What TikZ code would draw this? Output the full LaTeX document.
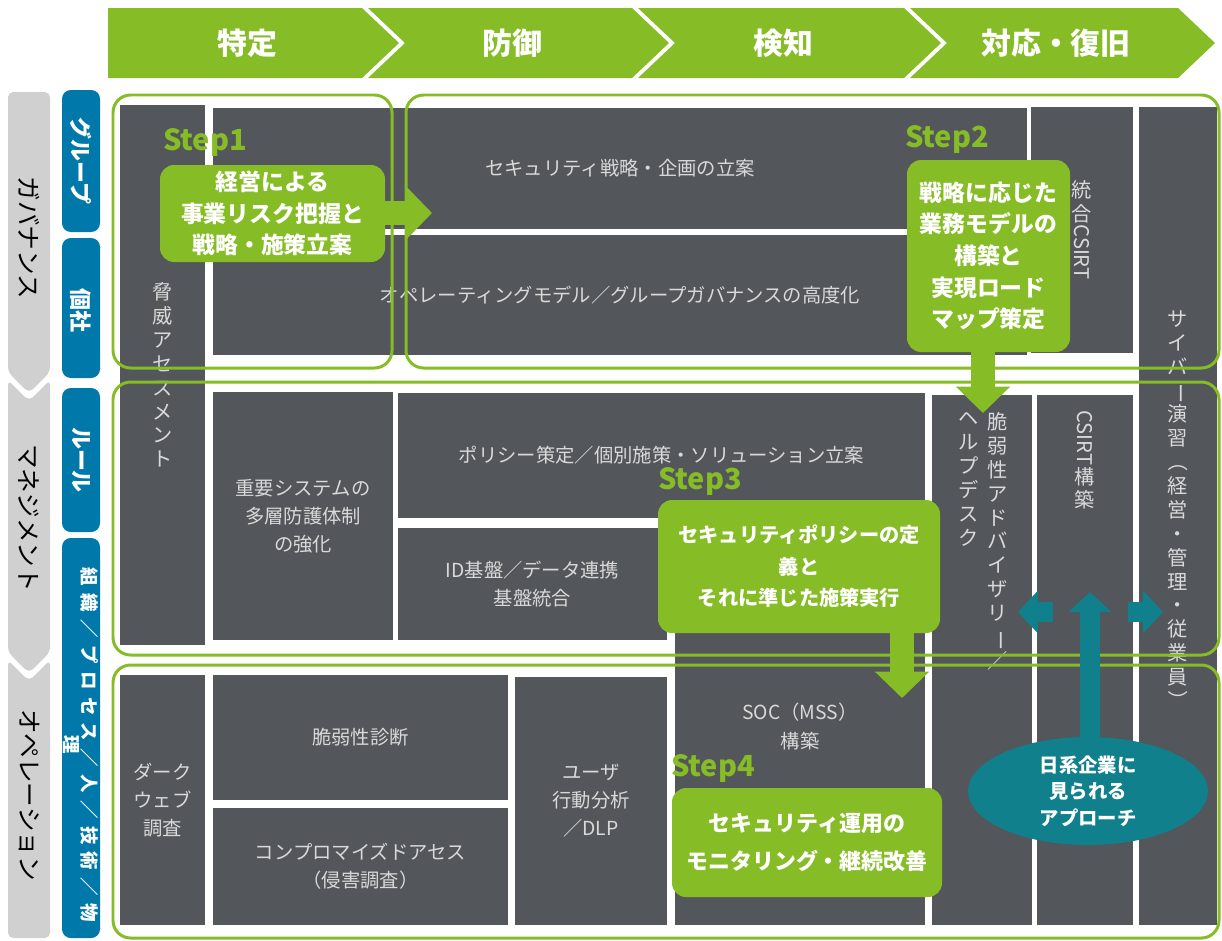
\documentclass[tikz,border=0pt]{standalone}
\usepackage{fontspec}
\setmainfont{Noto Sans CJK JP}
\newfontfamily\widefont[LetterSpace=40]{Noto Sans CJK JP}
\usetikzlibrary{positioning,fit,calc,shapes.geometric,arrows.meta}

\definecolor{leaf}{RGB}{134,188,37}
\definecolor{slate}{RGB}{83,86,90}
\definecolor{tabblue}{RGB}{0,121,170}
\definecolor{petrol}{RGB}{16,128,140}
\definecolor{mist}{RGB}{208,208,208}
\definecolor{boxtxt}{RGB}{217,217,217}

% vertical writing: turn one glyph or word
\newcommand{\tateturn}[1]{\rotatebox[origin=c]{-90}{#1}}

\tikzset{
  phase/.style={text=white,font=\bfseries\fontsize{17}{17}\selectfont},
  side/.style={rotate=-90,text=black,font=\fontsize{14}{14}\selectfont},
  tab/.style={rotate=-90,text=white,align=center,font=\bfseries\fontsize{12.5}{14}\selectfont},
  gbox/.style={fill=slate,inner sep=0pt},
  gtxt/.style={text=boxtxt,align=center,inner sep=0pt,font=\fontsize{11}{16}\selectfont},
  tate/.style={text=boxtxt,align=center,inner sep=0pt,font=\fontsize{11.5}{13.6}\selectfont},
  ring/.style={draw=leaf,line width=1.7pt,rounded corners=10pt},
  stepbox/.style={fill=leaf,rounded corners=8pt,inner sep=0pt},
  steptxt/.style={text=white,align=center,inner sep=0pt,font=\bfseries\fontsize{13}{18}\selectfont},
  steplbl/.style={text=leaf,font=\bfseries\fontsize{16.5}{17}\selectfont},
  flow/.style={draw=leaf,line width=14pt,-{Triangle[width=30pt,length=15pt]}},
  pflow/.style={draw=petrol,line width=11.5pt,-{Triangle[width=24pt,length=11.5pt]}},
}

\begin{document}
\begin{tikzpicture}[x=0.02cm,y=-0.02cm]
\useasboundingbox (0,0) rectangle (1222,940);

% phases on top
\foreach \L/\R/\d/\lbl [count=\i] in {108/362/0/特定, 368/632/37/防御, 638/904/37/検知, 910/1178/37/対応・復旧}
{
\fill[leaf] (\L,8) -- (\R,8) -- (\R+37,43) -- (\R,78) -- (\L,78) -- (\L+\d,43) -- cycle;
\node[phase] (phase\i) at ({(\L+\R)/2+12},43) {\lbl};
}

% layers on the left
\fill[mist,rounded corners=3pt] (8,92) -- (50,92) -- (50,372) -- (29,393) -- (8,372) -- cycle;
\fill[mist,rounded corners=3pt] (8,380) -- (29,401) -- (50,380) -- (50,652) -- (29,673) -- (8,652) -- cycle;
\fill[mist,rounded corners=3pt] (8,660) -- (29,681) -- (50,660) -- (50,938) -- (8,938) -- cycle;
\node[side] (gov) at (29,238) {ガバナンス};
\node[side] (mgmt) at (29,518) {マネジメント};
\node[side] (ops) at (29,795) {オペレーション};

\foreach \T/\B/\c/\lbl [count=\i] in {90/232/161/グループ, 238/378/310/個社, 388/532/460/ルール}
{
\fill[tabblue,rounded corners=5pt] (62,\T) rectangle (100,\B);
\node[tab] (tab\i) at (81,\c) {\lbl};
}
\fill[tabblue,rounded corners=5pt] (62,538) rectangle (100,938);
\node[tab,font=\widefont\bfseries\fontsize{10.5}{10}\selectfont] (tab4) at (81,745) {組織／プロセス／人／技術／物\\理};

% measures
\node[gbox,fit={(120,105) (205,645)}] (threat) {};
\node[gbox,fit={(213,108) (1027,229)}] (strat) {};
\node[gbox,fit={(213,235) (1027,355)}] (opmodel) {};
\node[gbox,fit={(1031,107) (1133,353)}] (csirtint) {};
\node[gbox,fit={(1139,107) (1217,925)}] (drill) {};
\node[gbox,fit={(213,392) (393,640)}] (multi) {};
\node[gbox,fit={(398,393) (925,518)}] (policy) {};
\node[gbox,fit={(398,528) (667,640)}] (idbase) {};
\node[gbox,fit={(675,528) (925,925)}] (soc) {};
\node[gbox,fit={(932,395) (1032,925)}] (advisory) {};
\node[gbox,fit={(1037,395) (1133,925)}] (csirtb) {};
\node[gbox,fit={(120,675) (205,925)}] (darkweb) {};
\node[gbox,fit={(213,675) (508,800)}] (vuln) {};
\node[gbox,fit={(213,808) (508,925)}] (compro) {};
\node[gbox,fit={(515,677) (667,925)}] (ueba) {};

\node[tate] (threattxt) at (threat) {脅\\威\\ア\\セ\\ス\\メ\\ン\\ト};
\node[gtxt] (strattxt) at (strat) {セキュリティ戦略・企画の立案};
\node[gtxt] (opmodeltxt) at (opmodel) {オペレーティングモデル／グループガバナンスの高度化};
\node[tate] (csirtinttxt) at (csirtint) {統\\合\\\tateturn{CSIRT}};
\node[tate] (drilltxt) at ([yshift=3pt]drill) {サ\\イ\\バ\\\tateturn{ー}\\演\\習\\\tateturn{（}\\経\\営\\・\\管\\理\\・\\従\\業\\員\\\tateturn{）}};
\node[gtxt] (multitxt) at (multi) {重要システムの\\多層防護体制\\の強化};
\node[gtxt] (policytxt) at (policy) {ポリシー策定／個別施策・ソリューション立案};
\node[gtxt] (idbasetxt) at (idbase) {ID基盤／データ連携\\基盤統合};
\node[gtxt] (soctxt) at (soc) {SOC（MSS）\\構築};
\node[tate,anchor=north] (advR) at (998,412) {脆\\弱\\性\\ア\\ド\\バ\\イ\\ザ\\リ\\\tateturn{ー}\\／};
\node[tate,anchor=north] (advL) at (969,412) {ヘ\\ル\\プ\\デ\\ス\\ク};
\node[tate,anchor=north] (csirtbtxt) at (1085,410) {\tateturn{CSIRT}\\構\\築};
\node[gtxt] (darkwebtxt) at (darkweb) {ダーク\\ウェブ\\調査};
\node[gtxt] (vulntxt) at (vuln) {脆弱性診断};
\node[gtxt] (comprotxt) at (compro) {コンプロマイズドアセス\\（侵害調査）};
\node[gtxt] (uebatxt) at (ueba) {ユーザ\\行動分析\\／DLP};

% green frames
\draw[ring] (113,95) rectangle (392,368);
\draw[ring] (406,95) rectangle (1219,368);
\draw[ring] (113,382) rectangle (1219,655);
\draw[ring] (113,665) rectangle (1219,938);

% steps
\node[stepbox,fit={(160,165) (385,262)}] (s1box) {};
\node[stepbox,fit={(907,160) (1070,352)}] (s2box) {};
\node[stepbox,fit={(658,500) (940,633)}] (s3box) {};
\node[stepbox,fit={(672,788) (942,897)}] (s4box) {};
\node[steptxt] (s1txt) at (s1box) {経営による\\事業リスク把握と\\戦略・施策立案};
\node[steptxt] (s2txt) at (s2box) {戦略に応じた\\業務モデルの\\構築と\\実現ロード\\マップ策定};
\node[steptxt,font=\bfseries\fontsize{11.5}{18}\selectfont] (s3txt) at (s3box) {セキュリティポリシーの定\\義と\\それに準じた施策実行};
\node[steptxt,font=\bfseries\fontsize{12.5}{21.5}\selectfont] (s4txt) at (s4box) {セキュリティ運用の\\モニタリング・継続改善};

\coordinate (s1tip) at (432,213);
\coordinate (s2tip) at (983,413);
\coordinate (s3tip) at (902,698);
\draw[flow] (s1box.east |- s1tip) -- (s1tip);
\draw[flow] (s2box.south -| s2tip) -- (s2tip);
\draw[flow] (s3box.south -| s3tip) -- (s3tip);

\node[steplbl] (s1lbl) at (205,143) {Step1};
\node[steplbl] (s2lbl) at (947,140) {Step2};
\node[steplbl] (s3lbl) at (700,482) {Step3};
\node[steplbl] (s4lbl) at (713,768) {Step4};

% approach seen in Japanese firms
\coordinate (uptip) at (1090,592);
\coordinate (ltail) at (1053,612);
\coordinate (ltip) at (1018,612);
\coordinate (rtail) at (1128,612);
\coordinate (rtip) at (1163,612);
\node[ellipse,fill=petrol,minimum width=4.8cm,minimum height=2.16cm,inner sep=0pt,text=white,align=center,font=\bfseries\fontsize{11}{15}\selectfont] (japan) at (1088,791) {日系企業に\\見られる\\アプローチ};
\draw[pflow] (japan.north -| uptip) -- (uptip);
\draw[pflow] (ltail) -- (ltip);
\draw[pflow] (rtail) -- (rtip);

\end{tikzpicture}
\end{document}
